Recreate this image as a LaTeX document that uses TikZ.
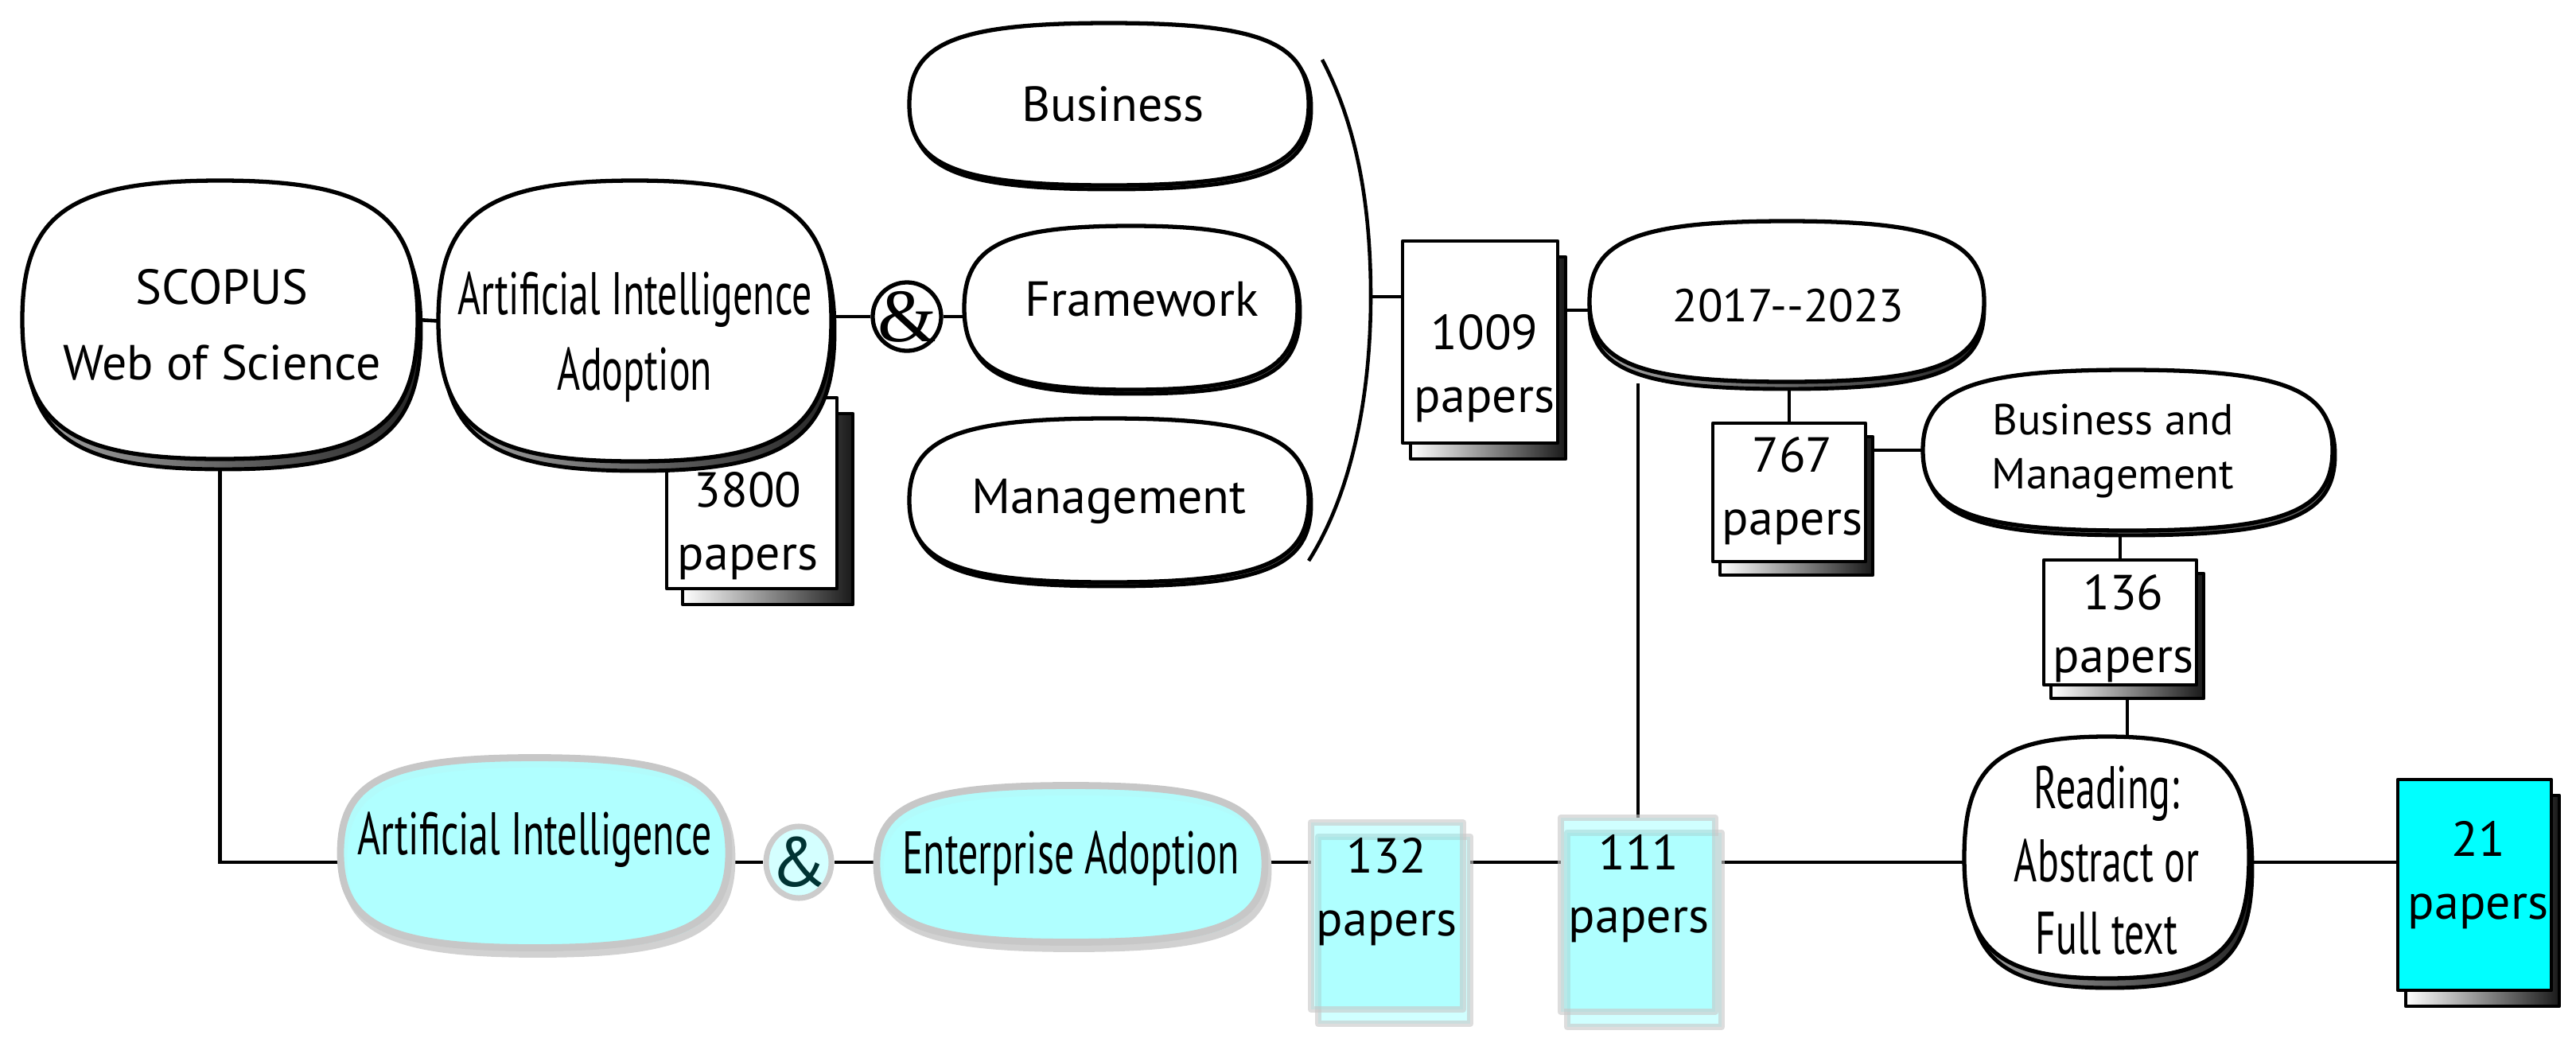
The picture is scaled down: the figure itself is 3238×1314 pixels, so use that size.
\documentclass[tikz,border=0pt]{standalone}
\usepackage{fontspec}
\setmainfont{PT Sans}
\newfontfamily\narrowfont[FakeStretch=0.66]{PT Sans}
\newfontfamily\serifamp{Liberation Serif}
\usetikzlibrary{calc,shapes.geometric}
\pgfdeclarelayer{bg}
\pgfsetlayers{bg,main}
\definecolor{lcyan}{HTML}{B0FFFF}
\definecolor{bcyan}{HTML}{6CFFFF}
\definecolor{acyan}{HTML}{D4FFFF}
\definecolor{dteal}{HTML}{003333}
\definecolor{fcyan}{HTML}{00FFFF}
\newcommand\kk{0.76}
\newcommand\sqpath[1]{(#1.east) .. controls ($(#1.east)!\kk!(#1.north east)$) and ($(#1.north)!\kk!(#1.north east)$) .. (#1.north) .. controls ($(#1.north)!\kk!(#1.north west)$) and ($(#1.west)!\kk!(#1.north west)$) .. (#1.west) .. controls ($(#1.west)!\kk!(#1.south west)$) and ($(#1.south)!\kk!(#1.south west)$) .. (#1.south) .. controls ($(#1.south)!\kk!(#1.south east)$) and ($(#1.east)!\kk!(#1.south east)$) .. cycle}
\newcommand\blob[9]{%
  \node[frame, minimum width=#4*0.01cm, minimum height=#5*0.01cm] (#1) at (#2,#3) {};
  \node[frame, minimum width=#4*0.01cm, minimum height=#5*0.01cm] (#1-s) at (#2+#6,#3+#7) {};
  \path[#8] \sqpath{#1-s};
  \path[#9] \sqpath{#1};}
\newcommand\pbox[9]{%
  \node[frame, minimum width=#4*0.01cm, minimum height=#5*0.01cm] (#1-s) at (#2+#6,#3+#7) {};
  \path[#9] (#1-s.north west) rectangle (#1-s.south east);
  \node[frame, minimum width=#4*0.01cm, minimum height=#5*0.01cm, #8] (#1) at (#2,#3) {};}
\begin{document}
\begin{tikzpicture}[x=0.01cm, y=-0.01cm, line join=round,
  frame/.style={rectangle, draw=none, inner sep=0pt, outer sep=0pt},
  conn/.style={line width=1.3pt},
  wshad/.style={draw=black, line width=1.4pt, left color=black!35, right color=black!85},
  wthin/.style={draw=black, line width=1.4pt, fill=black!60},
  wmain/.style={draw=black, line width=1.5pt, fill=white},
  cshad/.style={draw=black!18, line width=2.5pt, fill=lcyan},
  cmain/.style={draw=black!22, line width=2.5pt, fill=lcyan, fill opacity=0.92},
  boxsh/.style={draw=black, line width=1.2pt, left color=white, right color=black!90},
  wbox/.style={draw=black, line width=1.3pt, fill=white},
  fbox/.style={draw=black, line width=1.3pt, fill=fcyan},
  cbox/.style={draw=black!22, line width=2.5pt, fill=bcyan, fill opacity=0.32, draw opacity=0.6},
  txt/.style={align=center, inner sep=0pt, font=\fontsize{17.6}{27}\selectfont},
  yrtxt/.style={align=center, inner sep=0pt, font=\fontsize{16.5}{27}\selectfont},
  ntxt/.style={align=center, inner sep=0pt, font=\narrowfont\fontsize{21.5}{27}\selectfont},
  rtxt/.style={align=center, inner sep=0pt, font=\narrowfont\fontsize{21.5}{26}\selectfont},
  bmtxt/.style={align=center, inner sep=0pt, font=\fontsize{15.5}{19.6}\selectfont},
  ptxt/.style={align=center, inner sep=0pt, font=\fontsize{17.6}{22.5}\selectfont},
  ampc/.style={circle, draw=black, line width=1.5pt, fill=white, minimum size=0.86cm, inner sep=0pt},
  ampb/.style={ellipse, draw=black!20, line width=2pt, fill=acyan, minimum width=0.82cm, minimum height=0.9cm, inner sep=0pt},
  ampt/.style={inner sep=0pt, font=\serifamp\fontsize{27}{27}\selectfont},
  ampbt/.style={inner sep=0pt, text=dteal, font=\fontsize{25}{25}\selectfont}
]
\useasboundingbox (0,0) rectangle (3238,1314);

% top left blobs and 3800 box
\blob{scopus}{276.5}{402}{497}{350}{4}{13}{wshad}{wmain}
\pbox{b3800}{945}{620}{214}{240}{20}{20}{wbox}{boxsh}
\blob{aiad}{798}{403.5}{494}{353}{4}{12}{wshad}{wmain}

% Business / Framework / Management
\blob{bus}{1394}{131}{502}{204}{3}{5}{wthin}{wmain}
\blob{fw}{1421.5}{387}{419}{206}{3}{5}{wthin}{wmain}
\blob{mgmt}{1394}{629}{502}{206}{3}{5}{wthin}{wmain}

% right side
\blob{yr}{2246}{379}{496}{202}{0}{9}{wshad}{wmain}
\blob{bm}{2674.5}{566}{515}{202}{3}{6}{wthin}{wmain}
\blob{read}{2648}{1078}{358}{304}{4}{12}{wshad}{wmain}

% bottom cyan blobs
\blob{aic}{672}{1072}{488}{239}{4}{8}{cshad}{cmain}
\blob{ent}{1346}{1086}{488}{197}{4}{8}{cshad}{cmain}

% paper boxes
\pbox{b1009}{1860.5}{430}{195}{254}{10}{20}{wbox}{boxsh}
\pbox{b767}{2249}{619}{192}{174}{9}{17}{wbox}{boxsh}
\pbox{b136}{2665}{782.5}{192}{157}{9}{17}{wbox}{boxsh}
\pbox{b21}{3110.5}{1112.5}{193}{265}{10}{20}{fbox}{boxsh}
\pbox{b132}{1743.5}{1151.5}{191}{235}{9}{18}{cbox}{cbox}
\pbox{b111}{2059}{1150}{194}{244}{8}{19}{cbox}{cbox}

% ampersands
\node[ampc] (amp) at (1140,398) {};
\node[ampt] (amp-t) at (amp) {\&};
\node[ampb] (amp2) at (1004,1084) {};
\node[ampbt] (amp2-t) at (amp2) {\&};

% bracket
\coordinate (brt) at (1662,75);
\coordinate (brm) at (1723,373);
\coordinate (brb) at (1645,705);
\draw[conn] (brt) .. controls (1712,170) and (1723,280) .. (brm) .. controls (1723,480) and (1705,610) .. (brb);

% helper coordinates
\coordinate (row) at (0,1084);
\coordinate (r2) at (0,390);
\coordinate (v1) at (2059,482);

\begin{pgfonlayer}{bg}
\draw[conn] (scopus.east) -- (aiad.west);
\draw[conn] (amp.west) -- (amp.west -| aiad.east);
\draw[conn] (amp.east) -- (amp.east -| fw.west);
\draw[conn] (brm) -- (brm -| b1009.west);
\draw[conn] (b1009-s.east |- r2) -- (yr.west |- r2);
\draw[conn] (b767.north) -- (b767.north |- yr.south);
\draw[conn] (b767-s.east |- bm.west) -- (bm.west);
\draw[conn] (b136.north) -- (b136.north |- bm.south);
\draw[conn] (b136-s.south) -- (b136-s.south |- read.north);
\draw[conn] (v1) -- (v1 |- b111.north);
\draw[conn] (scopus.south) -- (scopus.south |- row) -- (aic.west |- row);
\draw[conn] (aic.east |- row) -- (amp2.west);
\draw[conn] (amp2.east) -- (ent.west |- row);
\draw[conn] (ent.east |- row) -- (b132.west |- row);
\draw[conn] (b132-s.east |- row) -- (b111.west |- row);
\draw[conn] (b111-s.east |- row) -- (read.west |- row);
\draw[conn] (read.east |- row) -- (b21.west |- row);
\end{pgfonlayer}

% texts
\node[txt] (scopus-t) at (279,408) {SCOPUS\\Web of Science};
\node[ntxt] (aiad-t) at (798,424) {Artificial Intelligence\\Adoption};
\node[txt] (bus-t) at (1399,131) {Business};
\node[txt] (fw-t) at (1435,376) {Framework};
\node[txt] (mgmt-t) at (1394,630) {Management};
\node[yrtxt] (yr-t) at (2248,384) {2017-{}-2023};
\node[bmtxt] (bm-t) at (2656,567) {Business and\\Management};
\node[rtxt] (read-t) at (2648,1082) {Reading:\\Abstract or\\Full text};
\node[ntxt] (aic-t) at (672,1056) {Artificial Intelligence};
\node[ntxt] (ent-t) at (1346,1079) {Enterprise Adoption};
\node[ptxt] (t3800) at (940,661) {3800\\papers};
\node[ptxt] (t1009) at (1866,463) {1009\\papers};
\node[ptxt] (t767) at (2253,617) {767\\papers};
\node[ptxt] (t136) at (2669,790) {136\\papers};
\node[ptxt] (t21) at (3115,1100) {21\\papers};
\node[ptxt] (t132) at (1743,1121) {132\\papers};
\node[ptxt] (t111) at (2060,1117) {111\\papers};
\end{tikzpicture}
\end{document}
